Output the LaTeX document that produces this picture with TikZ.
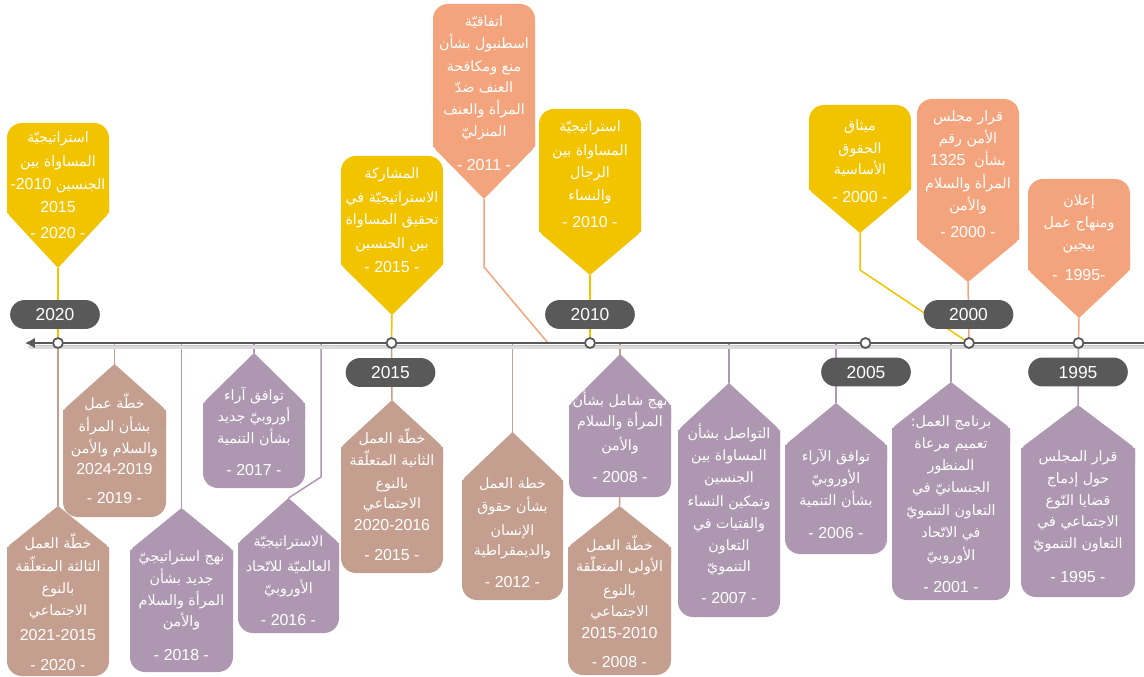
\documentclass[tikz,border=0pt]{standalone}
\usepackage{fontspec}
\setmainfont{Liberation Sans}
\newfontfamily\arfont[Script=Arabic]{DejaVu Sans}
\TeXXeTstate=1
\usetikzlibrary{arrows.meta}
\pgfdeclarelayer{bg}
\pgfsetlayers{bg,main}
\definecolor{cyel}{HTML}{F2C400}
\definecolor{csal}{HTML}{F4A47C}
\definecolor{cmau}{HTML}{AE97B0}
\definecolor{ctan}{HTML}{C49E8E}
\definecolor{cgry}{HTML}{595959}
\newcommand\A[1]{{\arfont\fontsize{14.3}{16}\selectfont\beginR#1\endR}}
% name, colour, L, R, T, S, tip
\newcommand\topbox[7]{%
  \fill[#2, rounded corners=15] (#3,#6) -- (#3,#5) -- (#4,#5) -- (#4,#6);
  \fill[#2, rounded corners=4] ({(#3+#4)/2},#7) -- (#3,#6) -- (#3,#6-20) -- (#4,#6-20) -- (#4,#6) -- ({(#3+#4)/2},#7);
  \coordinate (#1) at ({(#3+#4)/2},#7);}
% name, colour, L, R, tip, S, B
\newcommand\botbox[7]{%
  \fill[#2, rounded corners=15] (#3,#6) -- (#3,#7) -- (#4,#7) -- (#4,#6);
  \fill[#2, rounded corners=4] ({(#3+#4)/2},#5) -- (#3,#6) -- (#3,#6+20) -- (#4,#6+20) -- (#4,#6) -- ({(#3+#4)/2},#5);
  \coordinate (#1) at ({(#3+#4)/2},#5);}
\newcommand\yy[1]{-\hspace{4.5pt}#1\hspace{4.5pt}-}
\begin{document}
\begin{tikzpicture}[x=1bp,y=-1bp,
  ln/.style={text=white, inner sep=0pt, text height=10pt, text depth=2pt, font=\fontsize{16}{18}\selectfont},
  yr/.style={text=white, inner sep=0pt, text height=11.4pt, text depth=0pt, font=\fontsize{16}{18}\selectfont},
  ylab/.style={fill=cgry, rounded corners=14.5pt, minimum width=90pt, minimum height=29pt, inner sep=0pt,
     text=white, text height=12.3pt, text depth=0pt, font=\fontsize{17.5}{20}\selectfont},
  dot/.style={circle, draw=cgry, fill=white, line width=1.8pt, minimum size=10pt, inner sep=0pt},
  stem/.style={line width=1.5pt, draw=#1}]
\useasboundingbox (0,0) rectangle (1144,677);
% ---- points on the time line
\coordinate (c2020) at (58,343);
\coordinate (c2015) at (391.5,343);
\coordinate (c2010) at (590,343);
\coordinate (c2005) at (865.5,343);
\coordinate (c2000) at (969,343);
\coordinate (c1995) at (1078.5,343);
\coordinate (l19) at (114.5,343);
\coordinate (l18) at (181.5,343);
\coordinate (l17) at (254,343);
\coordinate (l16) at (321,343);
\coordinate (k16) at (321,477);
\coordinate (l12) at (512.5,343);
\coordinate (l11) at (548,343);
\coordinate (k11) at (484,267);
\coordinate (l08) at (620,343);
\coordinate (l07) at (729,343);
\coordinate (l06) at (836,343);
\coordinate (l01) at (951,343);
\coordinate (k00) at (860,270);
\coordinate (lend) at (1144,343);
\coordinate (lbeg) at (25,343);
% ---- time line with shadow
\draw[line width=4pt, black!14, line cap=round] (30,347) -- (1144,347);
\draw[line width=2pt, black!22] (30,345.5) -- (1144,345.5);
\draw[line width=2.6pt, cgry, -{Latex[length=10pt,width=11pt]}] (lend) -- (lbeg);
% ---- callouts above the line
\topbox{b20t}{cyel}{7}{109}{123}{213}{268}
\topbox{b15t}{cyel}{341}{443}{156}{265}{315}
\topbox{b11t}{csal}{433}{535}{4}{147}{199}
\topbox{b10t}{cyel}{539}{641}{109}{232}{275}
\topbox{b00a}{cyel}{809}{911}{105}{190}{233}
\topbox{b00b}{csal}{917}{1019}{99}{240}{282}
\topbox{b95t}{csal}{1028}{1130}{179}{270}{318}
% ---- callouts below the line
\botbox{b20b}{ctan}{7}{109}{506}{547}{676}
\botbox{b19}{ctan}{63}{166}{364}{410}{517}
\botbox{b18}{cmau}{130}{233}{508}{550}{672}
\botbox{b17}{cmau}{203}{305}{353}{403}{488}
\botbox{b16}{cmau}{238}{339}{498}{543}{633}
\botbox{b15b}{ctan}{341}{443}{400}{447}{573}
\botbox{b12}{ctan}{462}{563}{432}{480}{600}
\botbox{b08a}{cmau}{569}{671}{354}{405}{497}
\botbox{b08b}{ctan}{568}{671}{506}{547}{675}
\botbox{b07}{cmau}{678}{780}{383}{430}{617}
\botbox{b06}{cmau}{785}{887}{403}{445}{554}
\botbox{b01}{cmau}{892}{1010}{382}{428}{600}
\botbox{b95b}{cmau}{1021}{1135}{405}{448}{597}
% ---- connectors (behind everything)
\begin{pgfonlayer}{bg}
\draw[stem=cyel] (b20t) -- (c2020);
\draw[stem=cyel] (b15t) -- (c2015);
\draw[stem=csal] (b11t) -- (k11) -- (l11);
\draw[stem=cyel] (b10t) -- (c2010);
\draw[stem=cyel] (b00a) -- (k00) -- (c2000);
\draw[stem=csal] (b00b) -- (c2000);
\draw[stem=csal] (b95t) -- (c1995);
\draw[stem=ctan] (c2020) -- (b20b);
\draw[stem=ctan] (l19) -- (b19);
\draw[stem=cmau] (l18) -- (b18);
\draw[stem=cmau] (l17) -- (b17);
\draw[stem=cmau] (l16) -- (k16) -- (b16);
\draw[stem=ctan] (c2015) -- (b15b);
\draw[stem=ctan] (l12) -- (b12);
\draw[stem=cmau] (l08) -- (b08a);
\draw[stem=ctan] (l08) -- (b08b);
\draw[stem=cmau] (l07) -- (b07);
\draw[stem=cmau] (l06) -- (b06);
\draw[stem=cmau] (l01) -- (b01);
\draw[stem=cmau] (c1995) -- (b95b);
\end{pgfonlayer}
% ---- dots
\foreach \c in {c2020,c2015,c2010,c2005,c2000,c1995} \node[dot] (d\c) at (\c) {};
% ---- year labels
\node[ylab] (y2020) at (55,314.5) {2020};
\node[ylab] (y2015) at (390.5,372.5) {2015};
\node[ylab] (y2010) at (590,314.5) {2010};
\node[ylab] (y2005) at (866,372) {2005};
\node[ylab] (y2000) at (968.5,314.5) {2000};
\node[ylab, minimum width=100pt] (y1995) at (1078,372) {1995};
% ---- texts, above
\node[ln] (t1a) at (58,139) {\A{استراتيجيّة}};
\node[ln] (t1b) at (58,163) {\A{المساواة بين}};
\node[ln] (t1c) at (58,186) {-2010 \A{الجنسين}};
\node[yr] (t1d) at (58,207) {2015};
\node[yr] (t1e) at (58,233) {\yy{2020}};
\node[ln] (t2a) at (392,175) {\A{المشاركة}};
\node[ln] (t2b) at (392,199) {\A{الاستراتيجيّة في}};
\node[ln] (t2c) at (392,221) {\A{تحقيق المساواة}};
\node[ln] (t2d) at (392,245) {\A{بين الجنسين}};
\node[yr] (t2e) at (392,267) {\yy{2015}};
\node[ln] (t3a) at (484,23) {\A{اتفاقيّة}};
\node[ln] (t3b) at (484,45) {\A{اسطنبول بشأن}};
\node[ln] (t3c) at (484,68) {\A{منع ومكافحة}};
\node[ln] (t3d) at (484,89) {\A{العنف ضدّ}};
\node[ln] (t3e) at (484,111) {\A{المرأة والعنف}};
\node[ln] (t3f) at (484,133) {\A{المنزليّ}};
\node[yr] (t3g) at (484,165) {\yy{2011}};
\node[ln] (t4a) at (590,128) {\A{استراتيجيّة}};
\node[ln] (t4b) at (590,152) {\A{المساواة بين}};
\node[ln] (t4c) at (590,174) {\A{الرجال}};
\node[ln] (t4d) at (590,197) {\A{والنساء}};
\node[yr] (t4e) at (590,222) {\yy{2010}};
\node[ln] (t5a) at (860,127) {\A{ميثاق}};
\node[ln] (t5b) at (860,150) {\A{الحقوق}};
\node[ln] (t5c) at (860,171) {\A{الأساسية}};
\node[yr] (t5d) at (860,197) {\yy{2000}};
\node[ln] (t6a) at (968,118) {\A{قرار مجلس}};
\node[ln] (t6b) at (968,140) {\A{الأمن رقم}};
\node[ln] (t6c) at (968,162) {1325\ \ \A{بشأن}};
\node[ln] (t6d) at (968,185) {\A{المرأة والسلام}};
\node[ln] (t6e) at (968,207) {\A{والأمن}};
\node[yr] (t6f) at (968,232) {\yy{2000}};
\node[ln] (t7a) at (1079,202) {\A{إعلان}};
\node[ln] (t7b) at (1079,224) {\A{ومنهاج عمل}};
\node[ln] (t7c) at (1079,246) {\A{بيجين}};
\node[yr] (t7d) at (1079,275) {-\hspace{7pt}1995-};
% ---- texts, below
\node[ln] (u1a) at (58,545) {\A{خطّة العمل}};
\node[ln] (u1b) at (58,568) {\A{الثالثة المتعلّقة}};
\node[ln] (u1c) at (58,590) {\A{بالنوع}};
\node[ln] (u1d) at (58,612) {\A{الاجتماعي}};
\node[yr] (u1e) at (58,635) {2021-2015};
\node[yr] (u1f) at (58,665) {\yy{2020}};
\node[ln] (u2a) at (114.5,405) {\A{خطّة عمل}};
\node[ln] (u2b) at (114.5,428) {\A{بشأن المرأة}};
\node[ln] (u2c) at (114.5,450) {\A{والسلام والأمن}};
\node[yr] (u2d) at (114.5,469) {2024-2019};
\node[yr] (u2e) at (114.5,498) {\yy{2019}};
\node[ln] (u3a) at (181.5,558) {\A{نهج استراتيجيّ}};
\node[ln] (u3b) at (181.5,580) {\A{جديد بشأن}};
\node[ln] (u3c) at (181.5,602) {\A{المرأة والسلام}};
\node[ln] (u3d) at (181.5,623) {\A{والأمن}};
\node[yr] (u3e) at (181.5,655) {\yy{2018}};
\node[ln] (u4a) at (254,397) {\A{توافق آراء}};
\node[ln] (u4b) at (254,418) {\A{أوروبيّ جديد}};
\node[ln] (u4c) at (254,440) {\A{بشأن التنمية}};
\node[yr] (u4d) at (254,470) {\yy{2017}};
\node[ln] (u5a) at (288.5,543) {\A{الاستراتيجيّة}};
\node[ln] (u5b) at (288.5,568) {\A{العالميّة للاتّحاد}};
\node[ln] (u5c) at (288.5,590) {\A{الأوروبيّ}};
\node[yr] (u5d) at (288.5,620) {\yy{2016}};
\node[ln] (u6a) at (392,440) {\A{خطّة العمل}};
\node[ln] (u6b) at (392,462) {\A{الثانية المتعلّقة}};
\node[ln] (u6c) at (392,485) {\A{بالنوع}};
\node[ln] (u6d) at (392,505) {\A{الاجتماعي}};
\node[yr] (u6e) at (392,525) {2020-2016};
\node[yr] (u6f) at (392,555) {\yy{2015}};
\node[ln] (u7a) at (512.5,485) {\A{خطة العمل}};
\node[ln] (u7b) at (512.5,508) {\A{بشأن حقوق}};
\node[ln] (u7c) at (512.5,532) {\A{الإنسان}};
\node[ln] (u7d) at (512.5,552) {\A{والديمقراطية}};
\node[yr] (u7e) at (512.5,582) {\yy{2012}};
\node[ln] (u8a) at (620,402) {\A{نهج شامل بشأن}};
\node[ln] (u8b) at (620,423) {\A{المرأة والسلام}};
\node[ln] (u8c) at (620,447) {\A{والأمن}};
\node[yr] (u8d) at (620,477) {\yy{2008}};
\node[ln] (u9a) at (619.5,547) {\A{خطّة العمل}};
\node[ln] (u9b) at (619.5,568) {\A{الأولى المتعلّقة}};
\node[ln] (u9c) at (619.5,592) {\A{بالنوع}};
\node[ln] (u9d) at (619.5,613) {\A{الاجتماعي}};
\node[yr] (u9e) at (619.5,633) {2015-2010};
\node[yr] (u9f) at (619.5,662) {\yy{2008}};
\node[ln] (v1a) at (729,435) {\A{التواصل بشأن}};
\node[ln] (v1b) at (729,457) {\A{المساواة بين}};
\node[ln] (v1c) at (729,479) {\A{الجنسين}};
\node[ln] (v1d) at (729,503) {\A{وتمكين النساء}};
\node[ln] (v1e) at (729,525) {\A{والفتيات في}};
\node[ln] (v1f) at (729,547) {\A{التعاون}};
\node[ln] (v1g) at (729,568) {\A{التنمويّ}};
\node[yr] (v1h) at (729,598) {\yy{2007}};
\node[ln] (v2a) at (836,458) {\A{توافق الآراء}};
\node[ln] (v2b) at (836,480) {\A{الأوروبيّ}};
\node[ln] (v2c) at (836,502) {\A{بشأن التنمية}};
\node[yr] (v2d) at (836,533) {\yy{2006}};
\node[ln] (v3a) at (951,423) {\A{برنامج العمل:}};
\node[ln] (v3b) at (951,445) {\A{تعميم مرعاة}};
\node[ln] (v3c) at (951,467) {\A{المنظور}};
\node[ln] (v3d) at (951,489) {\A{الجنسانيّ في}};
\node[ln] (v3e) at (951,512) {\A{التعاون التنمويّ}};
\node[ln] (v3f) at (951,534) {\A{في الاتّحاد}};
\node[ln] (v3g) at (951,557) {\A{الأوروبيّ}};
\node[yr] (v3h) at (951,587) {\yy{2001}};
\node[ln] (v4a) at (1078,458) {\A{قرار المجلس}};
\node[ln] (v4b) at (1078,480) {\A{حول إدماج}};
\node[ln] (v4c) at (1078,502) {\A{قضايا النّوع}};
\node[ln] (v4d) at (1078,523) {\A{الاجتماعي في}};
\node[ln] (v4e) at (1078,545) {\A{التعاون التنمويّ}};
\node[yr] (v4f) at (1078,577) {\yy{1995}};
\end{tikzpicture}
\end{document}
